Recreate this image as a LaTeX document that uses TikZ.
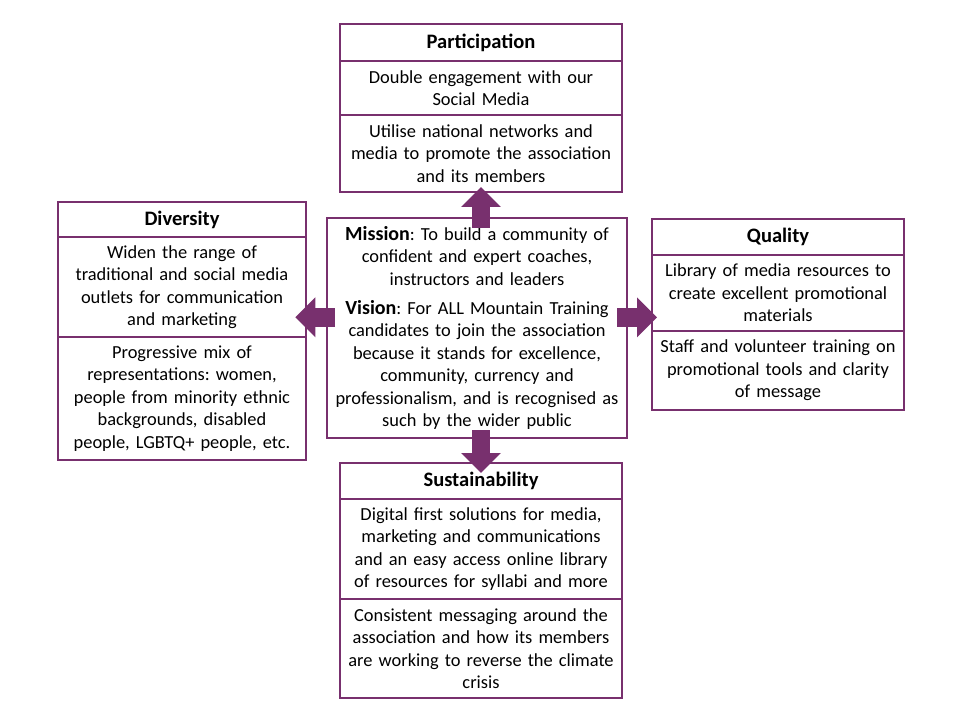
\documentclass[tikz,border=0pt]{standalone}
\usepackage{fontspec}
\setmainfont{Carlito}
\usetikzlibrary{positioning}
\usetikzlibrary{arrows.meta}
\definecolor{plum}{RGB}{120,48,110}
\newcommand{\slidefont}{\fontsize{13.8}{16.9}\selectfont}
\newcommand{\headfont}{\fontsize{15.4}{16.9}\selectfont\bfseries}
\frenchspacing

\begin{document}
\begin{tikzpicture}[x=0.75pt,y=-0.75pt,font=\slidefont,
	box/.style={draw=plum,line width=1.5pt,outer sep=0pt,inner sep=2pt,align=center,text width=#1},
	head/.style={box=#1,font=\headfont},
	big arrow/.style={draw=plum,line width=14pt,-{Triangle[width=29pt,length=15pt]}}]

				\useasboundingbox (0,0) rectangle (960,720);

				\node[head=207.5pt,minimum height=27.75pt] (part1) at (481,42.5) {Participation};
				\node[box=207.5pt,minimum height=40.5pt,below=0pt of part1] (part2) {Double engagement with our\\Social Media};
				\node[box=207.5pt,minimum height=57.75pt,below=0pt of part2] (part3) {Utilise national networks and\\media to promote the association\\and its members};

				\node[head=182pt,minimum height=26.25pt] (div1) at (182,219.5) {Diversity};
				\node[box=182pt,minimum height=75pt,below=0pt of div1] (div2) {Widen the range of\\traditional and social media\\outlets for communication\\and marketing};
				\node[box=182pt,minimum height=92.25pt,below=0pt of div2] (div3) {Progressive mix of\\representations: women,\\people from minority ethnic\\backgrounds, disabled\\people, LGBTQ+ people, etc.};

				\node[head=185pt,minimum height=27pt] (qual1) at (778,237) {Quality};
				\node[box=185pt,minimum height=57pt,below=0pt of qual1] (qual2) {Library of media resources to\\create excellent promotional\\materials};
				\node[box=185pt,minimum height=59.25pt,below=0pt of qual2] (qual3) {Staff and volunteer training on\\promotional tools and clarity\\of message};

				\node[head=207.5pt,minimum height=27pt] (sus1) at (481,481) {Sustainability};
				\node[box=207.5pt,minimum height=75pt,below=0pt of sus1] (sus2) {Digital first solutions for media,\\marketing and communications\\and an easy access online library\\of resources for syllabi and more};
				\node[box=207.5pt,minimum height=74.25pt,below=0pt of sus2] (sus3) {Consistent messaging around the\\association and how its members\\are working to reverse the climate\\crisis};

				\node[box=221pt,minimum height=165pt] (mv) at (477,328) {{\fontsize{15}{16.9}\selectfont\bfseries Mission}: To build a community of\\confident and expert coaches,\\instructors and leaders\\[5pt]{\fontsize{15}{16.9}\selectfont\bfseries Vision}: For ALL Mountain Training\\candidates to join the association\\because it stands for excellence,\\community, currency and\\professionalism, and is recognised as\\such by the wider public};

				\draw[big arrow,shorten <=-7.5pt,shorten >=-3.75pt] (mv.north -| part3) -- (part3.south);
				\draw[big arrow,shorten <=-6pt,shorten >=-8pt] ([yshift=8pt]mv.west) -- ([yshift=8pt]mv.west -| div2.east);
				\draw[big arrow,shorten <=-7.5pt,shorten >=-3.75pt] ([yshift=8pt]mv.east) -- ([yshift=8pt]mv.east -| qual2.west);
				\draw[big arrow,shorten <=-6pt,shorten >=-7.5pt] (mv.south -| sus1) -- (sus1.north);

\end{tikzpicture}
\end{document}
